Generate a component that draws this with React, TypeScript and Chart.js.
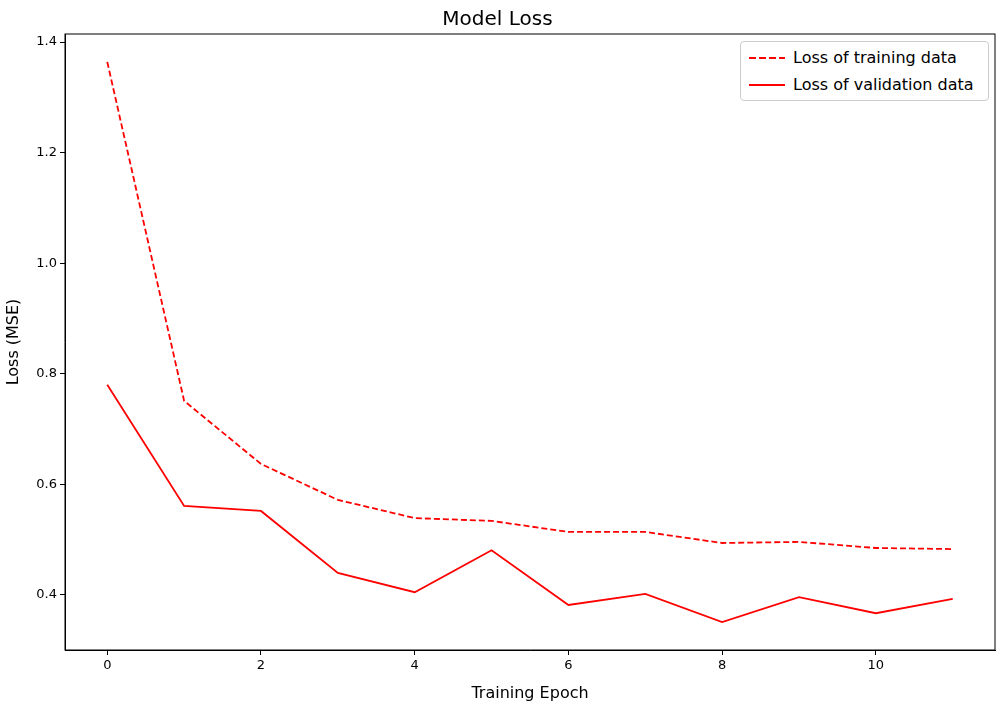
import React, { useEffect, useRef } from 'react';
import Chart from 'chart.js/auto';

const epochs = [0, 1, 2, 3, 4, 5, 6, 7, 8, 9, 10, 11];
const trainLoss = [1.364, 0.751, 0.637, 0.572, 0.539, 0.534, 0.514, 0.514, 0.494, 0.496, 0.485, 0.483];
const valLoss = [0.78, 0.561, 0.552, 0.44, 0.405, 0.481, 0.382, 0.402, 0.351, 0.396, 0.367, 0.393];
const yTicks = [0.4, 0.6, 0.8, 1.0, 1.2, 1.4];
const xTicks = [0, 2, 4, 6, 8, 10];

const FONT = '"DejaVu Sans", sans-serif';

const frame = {
  id: 'frame',
  afterDraw(chart: any) {
    const { ctx, chartArea: a } = chart;
    ctx.save();
    ctx.strokeStyle = '#000';
    ctx.lineWidth = 1;
    ctx.strokeRect(a.left, a.top, a.right - a.left, a.bottom - a.top);
    ctx.restore();
  },
};

const App: React.FC = () => {
  const chartRef = useRef<HTMLCanvasElement | null>(null);

  useEffect(() => {
    if (!chartRef.current) return;
    const myChart = new Chart(chartRef.current, {
      type: 'line',
      data: {
        datasets: [
          {
            label: 'Loss of training data',
            data: epochs.map((e, i) => ({ x: e, y: trainLoss[i] })),
            borderColor: 'red',
            borderDash: [6, 3],
            borderWidth: 1.8,
            pointRadius: 0,
          },
          {
            label: 'Loss of validation data',
            data: epochs.map((e, i) => ({ x: e, y: valLoss[i] })),
            borderColor: 'red',
            borderWidth: 1.8,
            pointRadius: 0,
          },
        ],
      },
      options: {
        animation: false,
        responsive: true,
        maintainAspectRatio: false,
        layout: { padding: { right: 10, top: 0, left: 0, bottom: 0 } },
        plugins: {
          legend: { display: false },
          tooltip: { enabled: false },
          title: {
            display: true,
            text: 'Model Loss',
            color: '#000',
            font: { family: FONT, size: 20, weight: 'normal' },
            padding: { top: 8, bottom: 2 },
          },
        },
        scales: {
          x: {
            type: 'linear',
            min: -0.55,
            max: 11.55,
            afterBuildTicks: (s: any) => { s.ticks = xTicks.map((v) => ({ value: v })); },
            afterFit: (s: any) => { s.height = 57; },
            grid: { drawOnChartArea: false, tickLength: 5, color: '#000' },
            border: { color: '#000' },
            ticks: { color: '#000', font: { family: FONT, size: 13 }, padding: 3, maxRotation: 0 },
            title: { display: true, text: 'Training Epoch', color: '#000', font: { family: FONT, size: 16 }, padding: { top: 0 } },
          },
          y: {
            min: 0.3005,
            max: 1.4145,
            afterBuildTicks: (s: any) => { s.ticks = yTicks.map((v) => ({ value: v })); },
            afterFit: (s: any) => { s.width = 65; },
            grid: { drawOnChartArea: false, tickLength: 5, color: '#000' },
            border: { color: '#000' },
            ticks: { color: '#000', font: { family: FONT, size: 13 }, padding: 3, callback: (v: any) => Number(v).toFixed(1) },
            title: { display: true, text: 'Loss (MSE)', color: '#000', font: { family: FONT, size: 16 }, padding: { bottom: 4 } },
          },
        },
      },
      plugins: [frame],
    });
    return () => myChart.destroy();
  }, []);

  const row = (dashed: boolean, text: string) => (
    <div style={{ display: 'flex', alignItems: 'center', height: 27 }}>
      <svg width={40} height={10} style={{ marginRight: 6 }}>
        <line x1={2} y1={5} x2={38} y2={5} stroke="red" strokeWidth={1.8} strokeDasharray={dashed ? '7 3' : undefined} />
      </svg>
      <span>{text}</span>
    </div>
  );

  return (
    <div style={{ position: 'fixed', left: 0, top: 0, width: 1005, height: 707, background: '#fff' }}>
      <canvas ref={chartRef} />
      <div
        style={{
          position: 'absolute', left: 740, top: 41, width: 235, padding: '2px 6px',
          border: '1px solid #ccc', borderRadius: 4, background: '#fff',
          fontFamily: FONT, fontSize: 16, color: '#000',
        }}
      >
        {row(true, 'Loss of training data')}
        {row(false, 'Loss of validation data')}
      </div>
    </div>
  );
};

export default App;
